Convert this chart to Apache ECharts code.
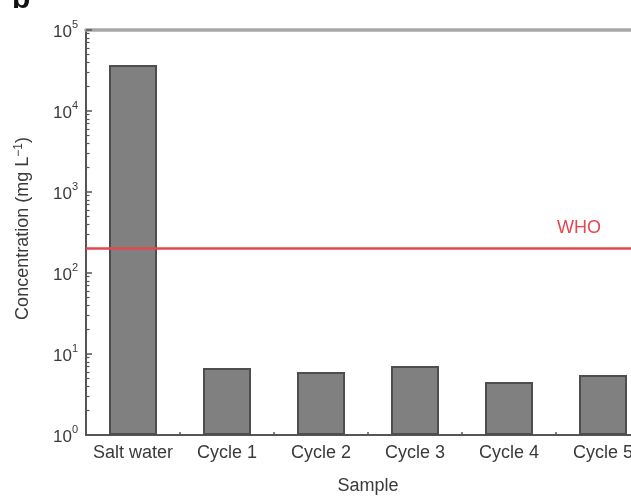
<!DOCTYPE html>
<html>
<head>
<meta charset="utf-8">
<script src="https://cdn.jsdelivr.net/npm/echarts@6/dist/echarts.min.js"></script>
<style>
html, body { margin: 0; padding: 0; background: #fff; }
#echarts { width: 631px; height: 497px; }
</style>
</head>
<body>
<div id="echarts"></div>
<script>
// 样本名称
var categories = ['Salt water', 'Cycle 1', 'Cycle 2', 'Cycle 3', 'Cycle 4', 'Cycle 5'];
// 浓度 (mg L-1)
var concentrations = [37000, 6.7, 6.0, 7.1, 4.5, 5.5];
// WHO 限值
var whoLimit = 200;
var whoLabel = 'WHO';
// y 轴范围 (对数)
var yMin = 1;
var yMax = 100000;
var decades = [1, 10, 100, 1000, 10000];
var minorSteps = [2, 3, 4, 5, 6, 7, 8, 9];

var font = "'Liberation Sans', Arial, sans-serif";
var textColor = '#3a3a3a';

function get_minor_ticks() {
    var ticks = [];
    for (var i = 0; i < decades.length; i++) {
        for (var j = 0; j < minorSteps.length; j++) {
            ticks.push(decades[i] * minorSteps[j]);
        }
    }
    return ticks;
}

function draw_chart() {
    var myChart = echarts.init(document.getElementById('echarts'));
    var option = {
        animation: false,
        backgroundColor: '#fff',
        textStyle: { fontFamily: font },
        grid: {
            left: 86,
            width: 564,
            top: 30,
            bottom: 62,
            outerBoundsMode: 'none',
            containLabel: false
        },
        graphic: [{
            type: 'text',
            left: 12,
            top: -15,
            style: {
                text: 'b',
                font: 'bold 30px ' + font,
                fill: '#111'
            }
        }],
        xAxis: [
            {
                type: 'category',
                position: 'bottom',
                data: categories,
                name: 'Sample',
                nameLocation: 'middle',
                nameGap: 42,
                nameTextStyle: { fontSize: 18, color: textColor, fontFamily: font },
                axisLine: { lineStyle: { color: '#555', width: 2 } },
                axisTick: { inside: true, alignWithLabel: true, length: 6, lineStyle: { color: '#555', width: 1.5 } },
                axisLabel: { fontSize: 18, color: textColor, margin: 9, fontFamily: font, interval: 0 },
                splitLine: { show: false }
            },
            {
                // 类别边界上的短刻度
                type: 'category',
                position: 'bottom',
                data: categories,
                axisLine: { show: false },
                axisTick: { show: true, inside: true, alignWithLabel: false, length: 3, lineStyle: { color: '#555', width: 1.5 } },
                axisLabel: { show: false },
                splitLine: { show: false }
            },
            {
                // 顶部灰线
                type: 'category',
                position: 'top',
                data: categories,
                axisLine: { lineStyle: { color: '#a6a6a6', width: 3.5 } },
                axisTick: { show: false },
                axisLabel: { show: false },
                splitLine: { show: false }
            }
        ],
        yAxis: [
            {
                type: 'log',
                logBase: 10,
                min: yMin,
                max: yMax,
                position: 'left',
                name: 'Concentration (mg L{s|\u22121})',
                nameLocation: 'middle',
                nameGap: 53,
                nameRotate: 90,
                nameTextStyle: {
                    fontSize: 18,
                    color: textColor,
                    fontFamily: font,
                    padding: [0, 0, 0, 8],
                    rich: {
                        s: { fontSize: 12, color: textColor, fontFamily: font, verticalAlign: 'top', padding: [0, 0, 8, 0] }
                    }
                },
                axisLine: { show: true, lineStyle: { color: '#555', width: 2 } },
                axisTick: { show: true, inside: true, length: 6, lineStyle: { color: '#555', width: 1.5 } },
                axisLabel: {
                    margin: 8,
                    formatter: function (value) {
                        return '{b|10}{s|' + Math.round(Math.log10(value)) + '}';
                    },
                    rich: {
                        b: { fontSize: 17, color: textColor, fontFamily: font, lineHeight: 22, verticalAlign: 'bottom' },
                        s: { fontSize: 11, color: textColor, fontFamily: font, lineHeight: 22, verticalAlign: 'top' }
                    }
                },
                splitLine: { show: false }
            },
            {
                // 对数次刻度
                type: 'log',
                logBase: 10,
                min: yMin,
                max: yMax,
                position: 'left',
                axisLine: { show: false },
                axisTick: { show: true, inside: true, length: 3.5, customValues: get_minor_ticks(), lineStyle: { color: '#555', width: 1.2 } },
                axisLabel: { show: false },
                splitLine: { show: false }
            }
        ],
        series: [
            {
                name: 'Concentration',
                type: 'bar',
                xAxisIndex: 0,
                yAxisIndex: 0,
                barWidth: 48,
                data: concentrations,
                itemStyle: { color: '#808080', borderColor: '#4e4e4e', borderWidth: 2 },
                markLine: {
                    silent: true,
                    symbol: ['none', 'none'],
                    lineStyle: { color: '#e8464f', width: 2.5, type: 'solid' },
                    label: {
                        show: true,
                        position: 'insideEndTop',
                        formatter: whoLabel,
                        color: '#e8464f',
                        fontSize: 18,
                        fontFamily: font,
                        padding: [0, 44, 7, 0]
                    },
                    data: [{ yAxis: whoLimit }]
                }
            }
        ]
    };
    myChart.setOption(option);
}

draw_chart();
</script>
</body>
</html>
